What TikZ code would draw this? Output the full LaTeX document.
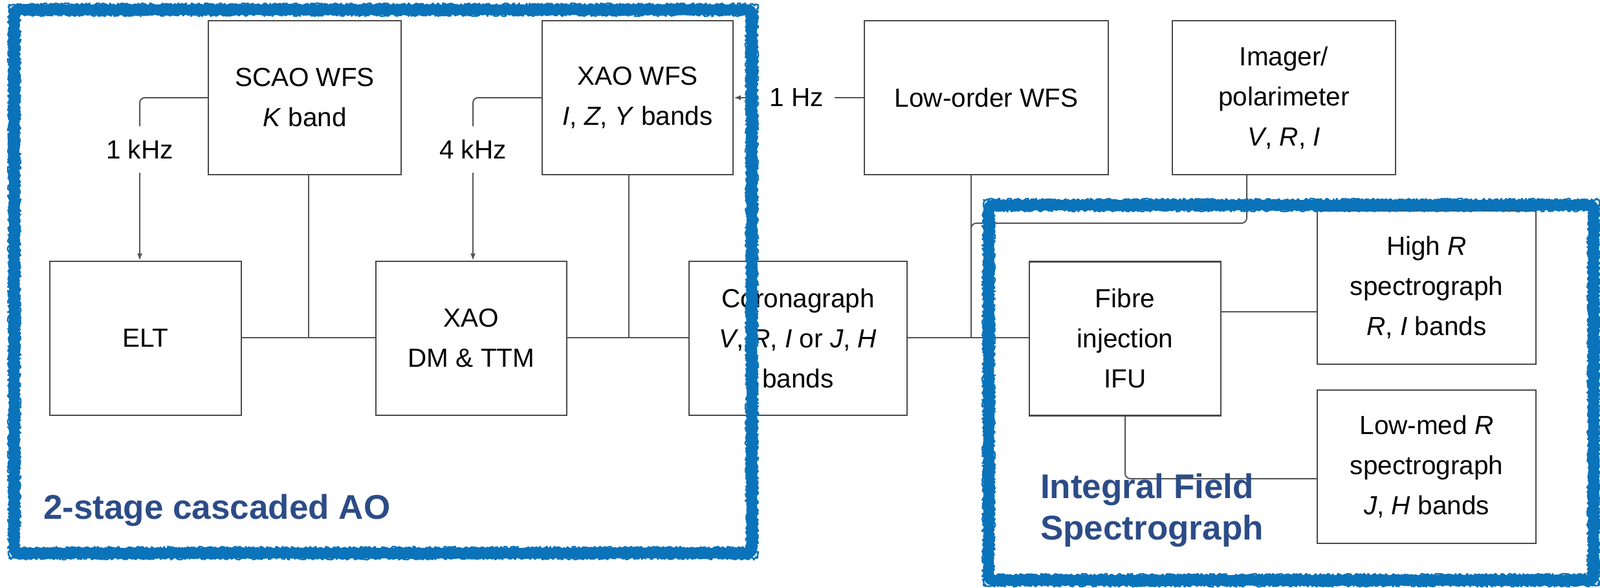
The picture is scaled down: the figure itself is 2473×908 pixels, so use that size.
\documentclass[tikz,border=0pt]{standalone}
\usepackage{fontspec}
\setmainfont{Liberation Sans}
\usetikzlibrary{arrows.meta,decorations.pathmorphing}
\definecolor{boxgray}{HTML}{4A4A4A}
\definecolor{linegray}{HTML}{555555}
\definecolor{frameblue}{HTML}{0A73BA}
\definecolor{lblblue}{HTML}{2C4C87}
\newcommand\bxfont{\fontsize{40.5}{62}\selectfont}
\newcommand\lblfont{\fontsize{53}{64}\selectfont\bfseries}
\begin{document}
\begin{tikzpicture}[x=1pt,y=-1pt,
  blk/.style={draw=boxgray, line width=2.2pt, inner sep=0pt, align=center, font=\bxfont,
              minimum height=238pt},
  conn/.style={draw=linegray, line width=2pt},
  arr/.style={conn, -{Latex[length=11pt,width=8pt]}},
  freq/.style={font=\bxfont, inner xsep=17pt, inner ysep=21pt},
  framebase/.style={draw=frameblue, line width=16pt, rounded corners=6pt},
  framerough/.style={draw=frameblue, line width=2.5pt, line join=round, decorate,
       decoration={random steps, segment length=2pt, amplitude=2.2pt}},
  lbl/.style={text=lblblue, font=\lblfont, inner sep=0pt, align=left}]
\useasboundingbox[fill=white] (0,0) rectangle (2473,908);

% boxes
\node[blk, minimum width=298pt] (scao) at (471,151) {SCAO WFS\\\textit{K} band};
\node[blk, minimum width=295pt] (xwfs) at (985.5,151) {XAO WFS\\\textit{I}, \textit{Z}, \textit{Y} bands};
\node[blk, minimum width=377pt] (lo) at (1524.5,151) {Low-order WFS};
\node[blk, minimum width=345pt] (img) at (1984.5,151) {Imager/\\polarimeter\\\textit{V}, \textit{R}, \textit{I}};
\node[blk, minimum width=296pt] (elt) at (225,523) {ELT};
\node[blk, minimum width=295pt] (xdm) at (728.5,523) {XAO\\DM \& TTM};
\node[blk, minimum width=337pt] (cor) at (1233.5,523) {Coronagraph\\\textit{V}, \textit{R}, \textit{I} or \textit{J}, \textit{H}\\bands};
\node[blk, minimum width=296pt] (fib) at (1739,523.5) {Fibre\\injection\\IFU};
\node[blk, minimum width=338pt, minimum height=237pt] (hr) at (2205,444.5) {High \textit{R}\\spectrograph\\\textit{R}, \textit{I} bands};
\node[blk, minimum width=338pt, minimum height=237pt] (lm) at (2205,721.5) {Low-med \textit{R}\\spectrograph\\\textit{J}, \textit{H} bands};

% frequency labels
\node[freq] (k1) at (216,231) {1 kHz};
\node[freq] (k4) at (731,231) {4 kHz};
\node[freq] (h1) at (1231,151) {1 Hz};

% junctions
\coordinate (j1) at (477,522);
\coordinate (j2) at (972,522);
\coordinate (j3) at (1501,522);
\coordinate (ib) at (1927,345);

% main optical path
\draw[conn] (elt.east |- j1) -- (xdm.west |- j1);
\draw[conn] (scao.south -| j1) -- (j1);
\draw[conn] (xdm.east |- j2) -- (cor.west |- j2);
\draw[conn] (xwfs.south -| j2) -- (j2);
\draw[conn] (cor.east |- j3) -- (fib.west |- j3);
\draw[conn] (lo.south -| j3) -- (j3);
\draw[conn, rounded corners=8pt] (img.south -| ib) -- (ib) -- (ib -| j3) -- (j3);
\draw[conn] ([yshift=-37.5pt]hr.west -| fib.east) -- ([yshift=-37.5pt]hr.west);
\draw[conn, rounded corners=8pt] (fib.south) |- ([yshift=-18.5pt]lm.west);

% control loops
\draw[conn, rounded corners=8pt] (scao.west) -| (k1.north);
\draw[arr] (k1.south) -- (k1.south |- elt.north);
\draw[conn, rounded corners=8pt] (xwfs.west) -| (k4.north);
\draw[arr] (k4.south) -- (k4.south |- xdm.north);
\draw[conn] (lo.west) -- (h1.east |- lo.west);
\draw[arr] (h1.west |- xwfs.east) -- (xwfs.east);

% blue frames (hand-drawn look)
\draw[framebase] (22,15) rectangle (1162,855);
\draw[framerough] (14,7) rectangle (1170,863);
\draw[framerough] (30,23) rectangle (1154,847);
\draw[framebase] (1528,317) rectangle (2463,897);
\draw[framerough] (1520,309) rectangle (2471,905);
\draw[framerough] (1536,325) rectangle (2455,889);

% frame labels
\node[lbl, anchor=base west] (lao) at (67,802) {2-stage cascaded AO};
\node[lbl, anchor=north west] (lifs) at (1608,731.5) {Integral Field\\Spectrograph};
\end{tikzpicture}
\end{document}
